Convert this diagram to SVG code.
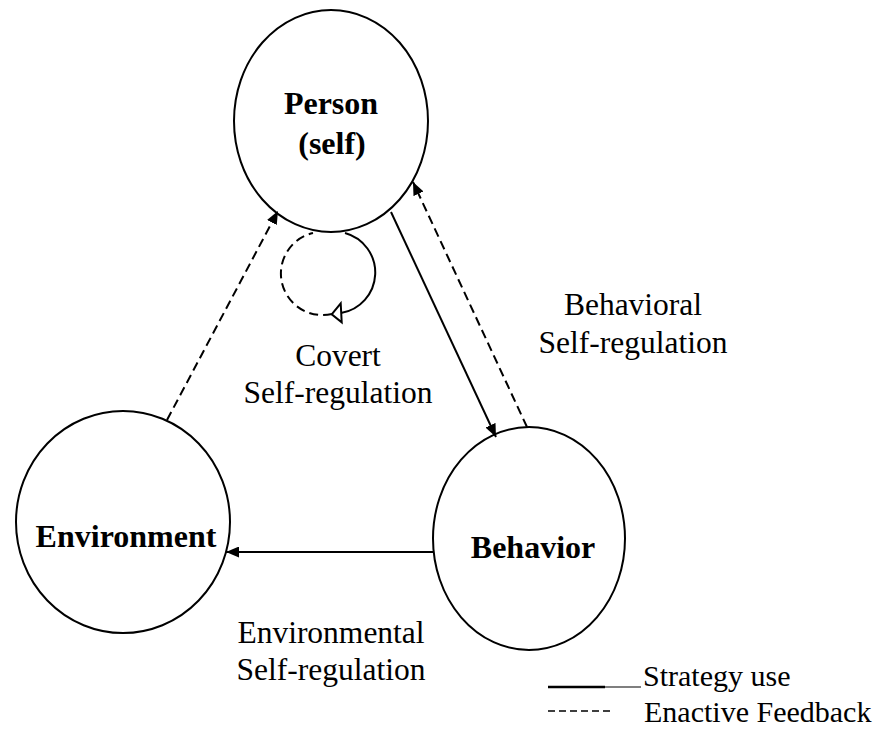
<svg xmlns="http://www.w3.org/2000/svg" width="892" height="730" viewBox="0 0 892 730">
<style>
.node{fill:#fff;stroke:#000;stroke-width:2}
.bold{font-family:"Liberation Serif","Times New Roman",serif;font-weight:bold;font-size:32px;fill:#000;text-anchor:middle}
.lbl{font-family:"Liberation Serif","Times New Roman",serif;font-size:31.5px;fill:#000;text-anchor:middle}
.leg{font-family:"Liberation Serif","Times New Roman",serif;font-size:30px;fill:#000}
.solid{fill:none;stroke:#000;stroke-width:2}
.dash{fill:none;stroke:#000;stroke-width:2;stroke-dasharray:9 5}
</style>
<defs>
<marker id="arr" markerUnits="userSpaceOnUse" markerWidth="13" markerHeight="11" refX="13" refY="5.5" orient="auto">
<path d="M0,0 L13,5.5 L0,11 z" fill="#000" stroke="none"/>
</marker>
</defs>
<g id="person">
<ellipse class="node" cx="331" cy="121" rx="97" ry="111"/>
<text class="bold" x="331" y="114">Person</text>
<text class="bold" x="332" y="154">(self)</text>
</g>
<g id="environment">
<ellipse class="node" cx="123" cy="522" rx="107" ry="111"/>
<text class="bold" x="126" y="547">Environment</text>
</g>
<g id="behavior">
<ellipse class="node" cx="529" cy="538.5" rx="96" ry="111.5"/>
<text class="bold" x="533" y="558">Behavior</text>
</g>
<g id="connectors">
<line class="dash" x1="167" y1="420" x2="278" y2="211" marker-end="url(#arr)"/>
<line class="solid" x1="391" y1="212" x2="496" y2="437" marker-end="url(#arr)"/>
<line class="dash" x1="527" y1="427" x2="413" y2="182" marker-end="url(#arr)"/>
<line class="solid" x1="433" y1="552" x2="226" y2="552" marker-end="url(#arr)"/>
<path class="solid" d="M345,233 A41,41 0 0 1 341,313"/>
<path class="dash" d="M332,314 A41,41 0 0 1 313,233"/>
<polygon points="331.7,314.3 340.7,303.3 341.7,322.3" fill="#fff" stroke="#000" stroke-width="2"/>
</g>
<g id="labels">
<text class="lbl" x="338" y="366">Covert</text>
<text class="lbl" x="338" y="403">Self-regulation</text>
<text class="lbl" x="633" y="315">Behavioral</text>
<text class="lbl" x="633" y="353">Self-regulation</text>
<text class="lbl" x="331" y="643">Environmental</text>
<text class="lbl" x="331" y="680">Self-regulation</text>
</g>
<g id="legend">
<line x1="548" y1="687" x2="605" y2="687" stroke="#000" stroke-width="2.5"/>
<line x1="605" y1="687" x2="641" y2="687" stroke="#000" stroke-width="1.2"/>
<text class="leg" x="643" y="686">Strategy use</text>
<line x1="548" y1="711" x2="612" y2="711" stroke="#000" stroke-width="1.5" stroke-dasharray="7 4"/>
<text class="leg" x="644" y="722">Enactive Feedback</text>
</g>
</svg>
